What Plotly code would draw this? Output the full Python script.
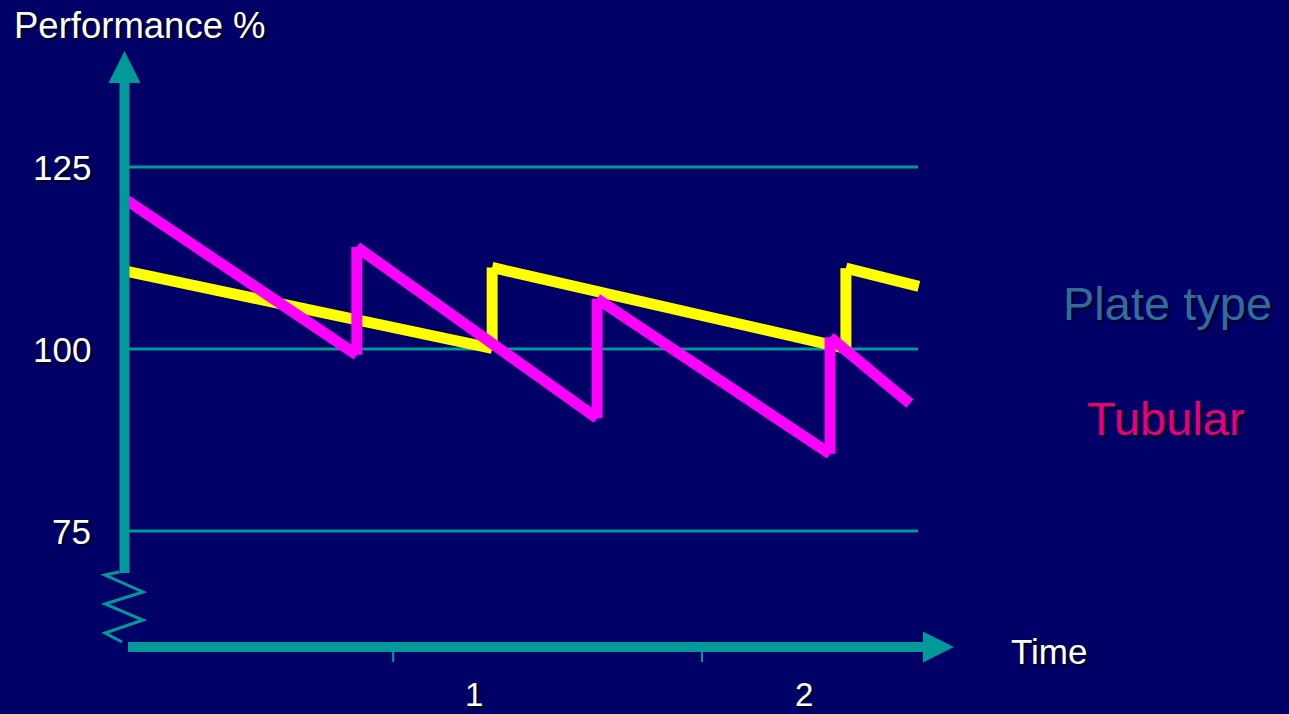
import plotly.graph_objects as go

W, H = 1289, 714

# ---- data ----
tubular_time = [-0.055, 0.645, 0.645, 1.373, 1.373, 2.079, 2.079, 2.321]
tubular_perf = [120.5, 99.2, 114.0, 90.5, 106.9, 85.6, 101.6, 92.5]
plate_time = [-0.055, 1.055, 1.055, 2.127, 2.127, 2.348]
plate_perf = [110.7, 100.1, 111.2, 100.1, 111.1, 108.6]
y_ticks = [75, 100, 125]
y_tick_labels = ["75", "100", "125"]
x_ticks = [1, 2]
x_tick_labels = ["1", "2"]
minor_x_ticks = [0.755, 1.691]
series_names = ["Plate type", "Tubular"]

# ---- style ----
BG = "#000066"
TEAL = "#009999"
YELLOW = "#ffff00"
MAGENTA = "#ff00ff"
PLATE_TXT = "#336b9f"
TUB_TXT = "#e6007e"
FONT = "Liberation Sans, Arial, sans-serif"
SHADOW = "2px 2px 2px #000020"

X_RANGE = [-144 / 330, (W - 144) / 330]
Y_RANGE = [100 - (H - 349) / 7.28, 100 + 349 / 7.28]


def px2t(px):
    return X_RANGE[0] + px / W * (X_RANGE[1] - X_RANGE[0])


def py2v(py):
    return Y_RANGE[1] - py / H * (Y_RANGE[1] - Y_RANGE[0])


fig = go.Figure()

# series drawn as separate straight strokes (butt ends, like the original drawing)
for t, v, col, name in [(plate_time, plate_perf, YELLOW, series_names[0]),
                        (tubular_time, tubular_perf, MAGENTA, series_names[1])]:
    for i in range(len(t) - 1):
        fig.add_trace(go.Scatter(
            x=t[i:i + 2], y=v[i:i + 2], mode="lines",
            line=dict(color=col, width=11), name=name,
            showlegend=False, hoverinfo="skip"))

shapes = []
# gridlines
for yv in y_ticks:
    shapes.append(dict(type="line", xref="x", yref="y", x0=px2t(128), x1=px2t(918),
                       y0=yv, y1=yv, line=dict(color=TEAL, width=3), layer="below"))

# y axis shaft + arrow
ax_x = px2t(124.5)
shapes.append(dict(type="line", xref="x", yref="y", x0=ax_x, x1=ax_x,
                   y0=py2v(573), y1=py2v(82), line=dict(color=TEAL, width=10), layer="above"))
shapes.append(dict(type="path", xref="x", yref="y", layer="above",
                   path=f"M {px2t(108.5)},{py2v(83)} L {px2t(140.5)},{py2v(83)} L {px2t(124.5)},{py2v(51)} Z",
                   fillcolor=TEAL, line=dict(color=TEAL, width=0)))
# axis break zigzag
zz = [(119, 572), (105, 575), (143, 592), (105, 604), (143, 620), (105, 633), (122, 642)]
zpath = "M " + " L ".join(f"{px2t(a)},{py2v(b)}" for a, b in zz)
shapes.append(dict(type="path", xref="x", yref="y", path=zpath, layer="above",
                   line=dict(color=TEAL, width=3)))

# x axis shaft + arrow
ax_y = py2v(647)
shapes.append(dict(type="line", xref="x", yref="y", x0=px2t(128), x1=px2t(924),
                   y0=ax_y, y1=ax_y, line=dict(color=TEAL, width=10), layer="above"))
shapes.append(dict(type="path", xref="x", yref="y", layer="above",
                   path=f"M {px2t(923)},{py2v(631.5)} L {px2t(923)},{py2v(662.5)} L {px2t(954)},{py2v(647)} Z",
                   fillcolor=TEAL, line=dict(color=TEAL, width=0)))
# small tick marks
for tv in minor_x_ticks:
    shapes.append(dict(type="line", xref="x", yref="y", x0=tv, x1=tv,
                       y0=py2v(651), y1=py2v(662), line=dict(color=TEAL, width=2), layer="above"))

ann = []
white = dict(family=FONT, size=35, color="white", shadow=SHADOW)
for yv, lab in zip(y_ticks, y_tick_labels):
    ann.append(dict(x=px2t(93), y=yv, xref="x", yref="y", text=lab, showarrow=False,
                    xanchor="right", yanchor="middle", font=white))
for xv, lab in zip(x_ticks, x_tick_labels):
    ann.append(dict(x=xv, y=py2v(694), xref="x", yref="y", text=lab, showarrow=False,
                    xanchor="center", yanchor="middle",
                    font=dict(family=FONT, size=33, color="white", shadow=SHADOW)))
ann.append(dict(x=px2t(12), y=py2v(25), xref="x", yref="y", text="Performance %", showarrow=False,
                xanchor="left", yanchor="middle",
                font=dict(family=FONT, size=36.5, color="white", shadow=SHADOW)))
ann.append(dict(x=px2t(1009), y=py2v(651), xref="x", yref="y", text="Time", showarrow=False,
                xanchor="left", yanchor="middle", font=white))
ann.append(dict(x=px2t(1061), y=py2v(303), xref="x", yref="y", text=series_names[0], showarrow=False,
                xanchor="left", yanchor="middle",
                font=dict(family=FONT, size=47, color=PLATE_TXT, shadow=SHADOW)))
ann.append(dict(x=px2t(1085), y=py2v(418), xref="x", yref="y", text=series_names[1], showarrow=False,
                xanchor="left", yanchor="middle",
                font=dict(family=FONT, size=47, color=TUB_TXT, shadow=SHADOW)))

fig.update_layout(
    width=W, height=H, margin=dict(l=0, r=0, t=0, b=0),
    paper_bgcolor=BG, plot_bgcolor=BG,
    xaxis=dict(range=X_RANGE, visible=False, fixedrange=True),
    yaxis=dict(range=Y_RANGE, visible=False, fixedrange=True),
    shapes=shapes, annotations=ann, showlegend=False,
)

fig.write_html("out.html", config={"displayModeBar": False},
               post_script="document.body.style.margin='0';document.body.style.background='#000066';")
